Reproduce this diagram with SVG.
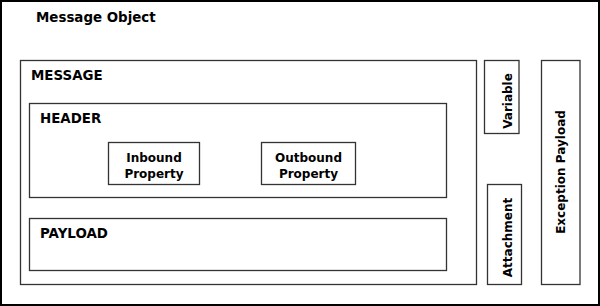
<svg xmlns="http://www.w3.org/2000/svg" width="600" height="306" viewBox="0 0 600 306">
<style>
.box{fill:#fff;stroke:#333;stroke-width:1.3}
.t{font-family:"DejaVu Sans","Liberation Sans",sans-serif;font-weight:bold;fill:#000}
.big{font-size:13.4px}
.sm{font-size:12px;text-anchor:middle}
</style>
<rect x="0" y="0" width="600" height="306" fill="#fff"/>
<g id="message-object">
<rect x="1" y="1" width="598" height="304" fill="none" stroke="#000" stroke-width="2"/>
<text class="t big" x="36" y="22">Message Object</text>
</g>
<g id="message">
<rect class="box" x="20.5" y="60.5" width="456" height="224"/>
<text class="t big" x="31" y="80">MESSAGE</text>
</g>
<g id="header">
<rect class="box" x="29.5" y="103.5" width="417" height="94"/>
<text class="t big" x="40" y="123">HEADER</text>
</g>
<g id="inbound">
<rect class="box" x="108.5" y="142.5" width="91" height="42"/>
<text class="t sm" x="154" y="162">Inbound</text>
<text class="t sm" x="154" y="178">Property</text>
</g>
<g id="outbound">
<rect class="box" x="261.5" y="142.5" width="94" height="42"/>
<text class="t sm" x="308.5" y="162">Outbound</text>
<text class="t sm" x="308.5" y="178">Property</text>
</g>
<g id="payload">
<rect class="box" x="29.5" y="218.5" width="417" height="52"/>
<text class="t big" x="40" y="238">PAYLOAD</text>
</g>
<g id="variable">
<rect class="box" x="484.5" y="60.5" width="34.5" height="73"/>
<text class="t sm" transform="translate(512,101) rotate(-90)">Variable</text>
</g>
<g id="attachment">
<rect class="box" x="487.5" y="184.5" width="34" height="100"/>
<text class="t sm" transform="translate(512,237.5) rotate(-90)">Attachment</text>
</g>
<g id="exception-payload">
<rect class="box" x="541.5" y="60.5" width="38.5" height="224"/>
<text class="t sm" transform="translate(565,172) rotate(-90)">Exception Payload</text>
</g>
<g id="connectors"></g>
</svg>
